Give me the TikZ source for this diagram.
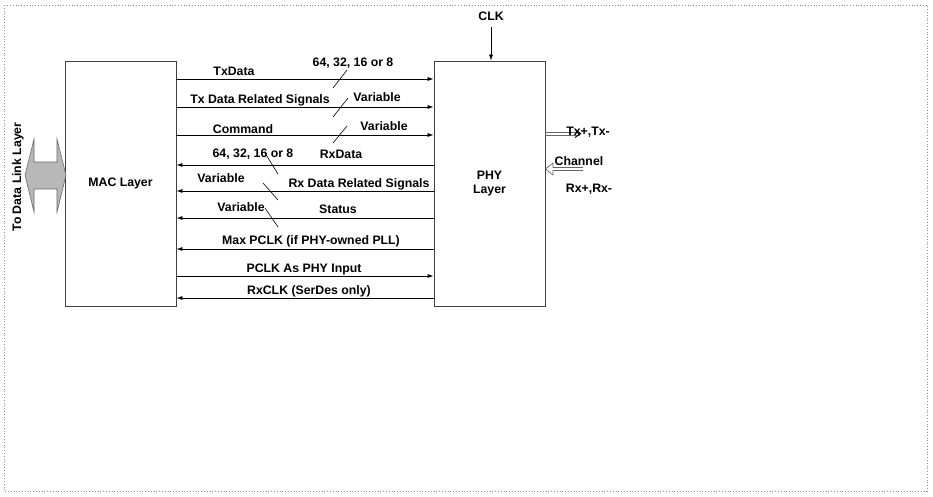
\documentclass[tikz,border=0pt]{standalone}
\usepackage{fontspec}
\setmainfont{Liberation Sans}
\usetikzlibrary{arrows.meta}
\begin{document}
\begin{tikzpicture}[x=1pt,y=-1pt,
  box/.style={draw=black!75, line width=0.9pt, minimum width=111pt, minimum height=245pt, inner sep=0pt, font=\bfseries\fontsize{12.3}{15}\selectfont, align=center},
  lbl/.style={font=\bfseries\fontsize{12.3}{15}\selectfont, inner sep=0pt},
  sig/.style={line width=0.7pt, -{Latex[length=6pt,width=4pt]}},
  tick/.style={line width=0.6pt},
  gl/.style={draw=black!60, line width=0.7pt},
]
\useasboundingbox (0,0) rectangle (933,496);
\draw[black!45, line width=0.8pt, dotted] (4,5) rectangle (927,491);

\node[box] (mac) at (120.5,183.5) {MAC Layer};
\node[box] (phy) at (489.5,183.5) {PHY\\[-1pt]Layer};

% left interface arrow
\draw[fill=black!28, draw=black!60, line width=0.6pt]
  (25,175) -- (34,139) -- (34,162) -- (57,162) -- (57,139) -- (66,175)
  -- (57,212) -- (57,189) -- (34,189) -- (34,212) -- cycle;
\node[lbl, rotate=90] (dll) at (18,177) {To Data Link Layer};

% CLK
\node[lbl] (clk) at (491,16) {CLK};
\draw[sig] (clk.south |- 0,27) -- (clk.south |- phy.north);

% signals MAC -> PHY
\draw[sig] (mac.east |- 0,79) -- (phy.west |- 0,79);
\draw[sig] (mac.east |- 0,107) -- (phy.west |- 0,107);
\draw[sig] (mac.east |- 0,135) -- (phy.west |- 0,135);
\draw[sig] (mac.east |- 0,276) -- (phy.west |- 0,276);
% signals PHY -> MAC
\draw[sig] (phy.west |- 0,165) -- (mac.east |- 0,165);
\draw[sig] (phy.west |- 0,191) -- (mac.east |- 0,191);
\draw[sig] (phy.west |- 0,218) -- (mac.east |- 0,218);
\draw[sig] (phy.west |- 0,249) -- (mac.east |- 0,249);
\draw[sig] (phy.west |- 0,298) -- (mac.east |- 0,298);

% bus width ticks
\draw[tick] (333,88) -- (347,70);
\draw[tick] (333,117) -- (348,98);
\draw[tick] (333,143) -- (347,126);
\draw[tick] (265,153) -- (278,174);
\draw[tick] (263,183) -- (278,200);
\draw[tick] (265,208) -- (278,227);

% labels
\node[lbl] (l1) at (234,71) {TxData};
\node[lbl] (w1) at (353,63) {64, 32, 16 or 8};
\node[lbl] (l2) at (260,100) {Tx Data Related Signals};
\node[lbl] (w2) at (377,97) {Variable};
\node[lbl] (l3) at (243,129) {Command};
\node[lbl] (w3) at (384,126) {Variable};
\node[lbl] (w4) at (253,154) {64, 32, 16 or 8};
\node[lbl] (l4) at (341,154) {RxData};
\node[lbl] (w5) at (221,178) {Variable};
\node[lbl] (l5) at (359,184) {Rx Data Related Signals};
\node[lbl] (w6) at (241,207) {Variable};
\node[lbl] (l6) at (338,209) {Status};
\node[lbl] (l7) at (311,241) {Max PCLK (if PHY-owned PLL)};
\node[lbl] (l8) at (304,269) {PCLK As PHY Input};
\node[lbl] (l9) at (309,291) {RxCLK (SerDes only)};

% line side: Tx (double line out of PHY)
\draw[gl] (phy.east |- 0,132) -- (580,132);
\draw[gl] (phy.east |- 0,135) -- (580,135);
\draw[line width=0.9pt] (575,129.5) -- (580.5,133.5) -- (575,137.5);
% Channel (hollow arrow into PHY)
\draw[gl] (583,167.5) -- (553,167.5) -- (553,163) -- (phy.east |- 0,169)
  -- (553,175) -- (553,170.5) -- (583,170.5);
\node[lbl] (tx) at (588,132) {Tx+,Tx-};
\node[lbl] (ch) at (579,161) {Channel};
\node[lbl] (rx) at (589,189) {Rx+,Rx-};
\end{tikzpicture}
\end{document}
